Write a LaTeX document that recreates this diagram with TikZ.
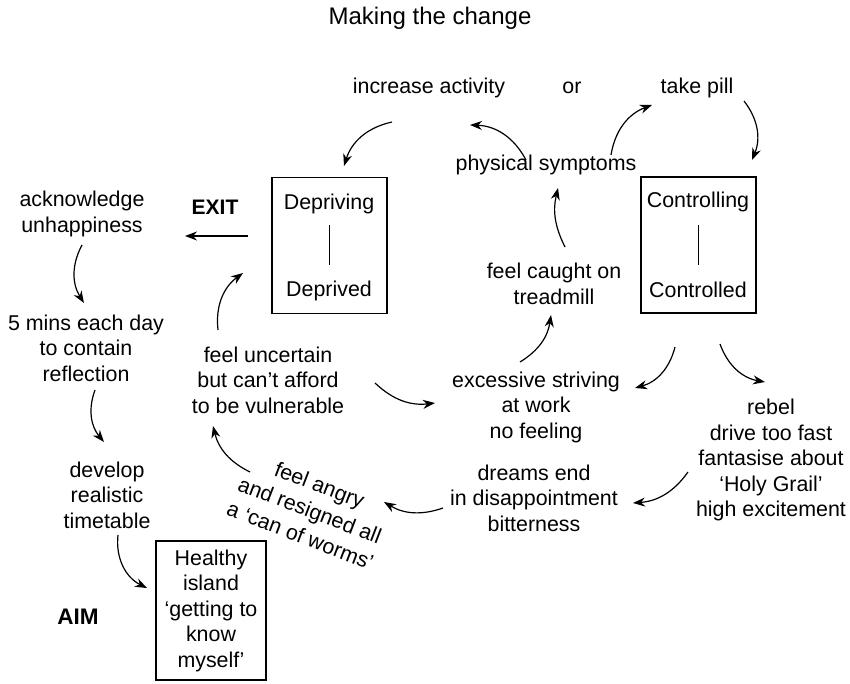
\documentclass[tikz,border=0pt]{standalone}
\usepackage{fontspec}
\setmainfont{Liberation Sans}
\usetikzlibrary{arrows.meta}

\begin{document}
\begin{tikzpicture}[
    x=1pt, y=-1pt,
    txt/.style={align=center, inner sep=0pt, font=\fontsize{21.4}{25.5}\selectfont},
    hdr/.style={inner sep=0pt, font=\bfseries\fontsize{21}{25}\selectfont},
    box/.style={draw, line width=1.2pt, inner sep=0pt, minimum width=115pt, minimum height=136pt},
    arr/.style={line width=1.2pt, ->},
    >={Stealth[length=12pt, width=9pt]}
]

\useasboundingbox (0,0) rectangle (850,684);

% Title
\node[txt, font=\fontsize{24}{28}\selectfont] (title) at (430,18) {Making the change};

% ---------------------------------------------------------
% The two states
% ---------------------------------------------------------
\node[box] (depbox) at (329.5,245.5) {};
\node[txt] (depriving) at (329,204) {Depriving};
\node[txt] (deprived) at (329,291) {Deprived};
\draw[line width=1.1pt] ([yshift=20pt]depbox.center) -- ([yshift=-20pt]depbox.center);

\node[box] (ctrlbox) at (698.5,245) {};
\node[txt] (controlling) at (698,202) {Controlling};
\node[txt] (controlled) at (698,290) {Controlled};
\draw[line width=1.1pt] ([yshift=20pt]ctrlbox.center) -- ([yshift=-20pt]ctrlbox.center);

% ---------------------------------------------------------
% The cycle
% ---------------------------------------------------------
\node[txt] (activity) at (429,88) {increase activity};
\node[txt] (or) at (572,88) {or};
\node[txt] (pill) at (697,88) {take pill};
\node[txt] (symptoms) at (546,165) {physical symptoms};
\node[txt] (treadmill) at (554,284) {feel caught on\\treadmill};
\node[txt] (striving) at (536,407) {excessive striving\\at work\\no feeling};
\node[txt] (rebel) at (771,460) {rebel\\drive too fast\\fantasise about\\`Holy Grail'\\high excitement};
\node[txt] (dreams) at (534,498) {dreams end\\in disappointment\\bitterness};
\node[txt, rotate=-21, font=\fontsize{21.4}{27}\selectfont] (angry) at (310,510)
    {feel angry\\and resigned all\\a `can of worms'};
\node[txt] (uncertain) at (268,380) {feel uncertain\\but can't afford\\to be vulnerable};

% ---------------------------------------------------------
% The way out
% ---------------------------------------------------------
\node[hdr] (exit) at (215,207) {EXIT};
\node[txt] (acknowledge) at (82,214) {acknowledge\\unhappiness};
\node[txt] (reflection) at (86,348) {5 mins each day\\to contain\\reflection};
\node[txt] (timetable) at (107,495) {develop\\realistic\\timetable};
\node[hdr, font=\bfseries\fontsize{22.5}{26}\selectfont] (aim) at (78,617) {AIM};
\node[box, txt, minimum width=110pt, minimum height=139pt] (island) at (211,610.5)
    {Healthy\\island\\`getting to\\know\\myself'};

% Arrow ends
\coordinate (actA) at (392,122);  \coordinate (actB) at (344,166);
\coordinate (symA) at (526,160);  \coordinate (symB) at (470,125);
\coordinate (symC) at (611,155);  \coordinate (symD) at (652,105);
\coordinate (pilA) at (744,101);  \coordinate (pilB) at (752,160);
\coordinate (trdA) at (565,247);  \coordinate (trdB) at (558,188);
\coordinate (strA) at (520,362);  \coordinate (strB) at (551,315);
\coordinate (uncA) at (375,383);  \coordinate (uncB) at (435,403);
\coordinate (uncC) at (218,330);  \coordinate (uncD) at (243,273);
\coordinate (exiA) at (248,236);  \coordinate (exiB) at (185,236);
\coordinate (ackA) at (82,245);   \coordinate (ackB) at (84,303);
\coordinate (minA) at (95,390);   \coordinate (minB) at (104,442);
\coordinate (timA) at (118,535);  \coordinate (timB) at (147,588);
\coordinate (conA) at (675,347);  \coordinate (conB) at (635,388);
\coordinate (conC) at (720,344);  \coordinate (conD) at (765,382);
\coordinate (rebA) at (688,472);  \coordinate (rebB) at (633,503);
\coordinate (drmA) at (443,508);  \coordinate (drmB) at (384,502);
\coordinate (angA) at (250,472);  \coordinate (angB) at (213,426);

\draw[arr] (actA) to[bend right=30] (actB);
\draw[arr] (symA) to[bend right=30] (symB);
\draw[arr] (symC) to[bend left=30] (symD);
\draw[arr] (pilA) to[bend left=30] (pilB);
\draw[arr] (trdA) to[bend left=20] (trdB);
\draw[arr] (strA) to[bend right=25] (strB);
\draw[arr] (uncA) to[bend right=25] (uncB);
\draw[arr] (uncC) to[bend left=30] (uncD);
\draw[arr] (exiA) -- (exiB);
\draw[arr] (ackA) to[bend right=30] (ackB);
\draw[arr] (minA) to[bend right=30] (minB);
\draw[arr] (timA) to[bend right=35] (timB);
\draw[arr] (conA) to[bend left=30] (conB);
\draw[arr] (conC) to[bend right=30] (conD);
\draw[arr] (rebA) to[bend left=25] (rebB);
\draw[arr] (drmA) to[bend left=25] (drmB);
\draw[arr] (angA) to[bend left=25] (angB);

\end{tikzpicture}
\end{document}
